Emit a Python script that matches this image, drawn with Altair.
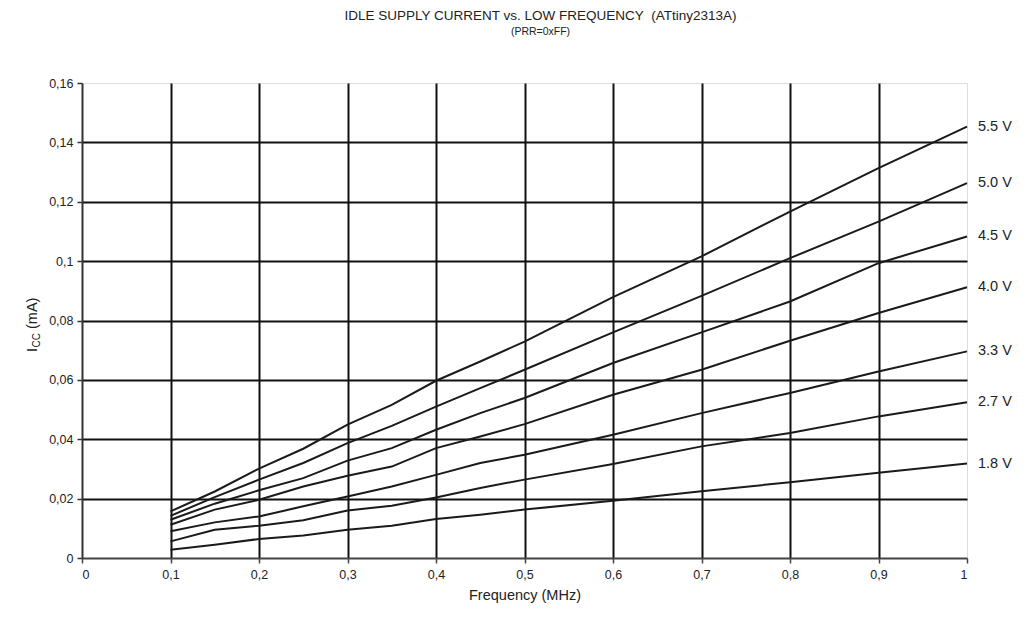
import altair as alt
import pandas as pd

freq = [0.1, 0.15, 0.2, 0.25, 0.3, 0.35, 0.4, 0.45, 0.5, 0.6, 0.7, 0.8, 0.9, 1.0]
v55 = [0.0157, 0.0224, 0.0301, 0.0368, 0.0449, 0.0516, 0.0597, 0.0662, 0.0729, 0.0879, 0.1016, 0.1167, 0.1313, 0.1453]
v50 = [0.0142, 0.0205, 0.0264, 0.0320, 0.0387, 0.0445, 0.0510, 0.0572, 0.0634, 0.0760, 0.0883, 0.1010, 0.1133, 0.1263]
v45 = [0.0129, 0.0183, 0.0228, 0.0269, 0.0328, 0.0370, 0.0432, 0.0488, 0.0539, 0.0657, 0.0760, 0.0864, 0.0993, 0.1083]
v40 = [0.0112, 0.0163, 0.0196, 0.0241, 0.0277, 0.0308, 0.0370, 0.0409, 0.0451, 0.0550, 0.0634, 0.0732, 0.0825, 0.0912]
v33 = [0.0090, 0.0120, 0.0140, 0.0174, 0.0207, 0.0241, 0.0280, 0.0320, 0.0348, 0.0415, 0.0488, 0.0556, 0.0628, 0.0696]
v27 = [0.0056, 0.0095, 0.0109, 0.0127, 0.0160, 0.0176, 0.0204, 0.0236, 0.0264, 0.0317, 0.0376, 0.0421, 0.0477, 0.0525]
v18 = [0.0028, 0.0045, 0.0064, 0.0076, 0.0095, 0.0109, 0.0131, 0.0146, 0.0163, 0.0193, 0.0225, 0.0255, 0.0287, 0.0318]

series = {"5.5 V": v55, "5.0 V": v50, "4.5 V": v45, "4.0 V": v40,
          "3.3 V": v33, "2.7 V": v27, "1.8 V": v18}

rows = []
for name, vals in series.items():
    for f, v in zip(freq, vals):
        rows.append({"f": f, "i": v, "s": name})
df = pd.DataFrame(rows)
ends = pd.DataFrame([{"f": freq[-1], "i": vals[-1], "s": name} for name, vals in series.items()])

FONT = "Liberation Sans"
W, H = 885, 475

xscale = alt.Scale(domain=[0, 1], nice=False)
yscale = alt.Scale(domain=[0, 0.16], nice=False)

grid_hide_x = {"condition": {"test": "datum.value <= 0 || datum.value >= 1", "value": 0}, "value": 1}
grid_hide_y = {"condition": {"test": "datum.value <= 0 || datum.value >= 0.159", "value": 0}, "value": 1}

xaxis = alt.Axis(values=[0, 0.1, 0.2, 0.3, 0.4, 0.5, 0.6, 0.7, 0.8, 0.9, 1.0], format=".1~f",
                 labelExpr="replace(datum.label, '.', ',')", title="Frequency (MHz)",
                 titleFontWeight="normal", titleFontSize=14.5, titlePadding=8, titleFont=FONT,
                 titleColor="#222",
                 labelFont=FONT, labelFontSize=12.5, labelPadding=5, labelColor="#222",
                 grid=True, gridColor="#111", gridWidth=2, gridOpacity=grid_hide_x,
                 domainColor="#444", domainWidth=2, tickColor="#444", tickSize=5, tickWidth=1.5)
yaxis = alt.Axis(values=[0, 0.02, 0.04, 0.06, 0.08, 0.1, 0.12, 0.14, 0.16], format=".2~f",
                 labelExpr="replace(datum.label, '.', ',')", title=None,
                 labelFont=FONT, labelFontSize=12.5, labelPadding=4, labelColor="#222",
                 grid=True, gridColor="#111", gridWidth=2, gridOpacity=grid_hide_y,
                 domainColor="#333", domainWidth=2, tickColor="#333", tickSize=5, tickWidth=1.5)

lines = alt.Chart(df).mark_line(color="#1a1a1a", strokeWidth=2).encode(
    x=alt.X("f:Q", scale=xscale, axis=xaxis),
    y=alt.Y("i:Q", scale=yscale, axis=yaxis),
    detail="s:N",
)

labels = alt.Chart(ends).mark_text(align="left", baseline="middle", dx=11, font=FONT,
                                   fontSize=14.5, color="#222").encode(
    x=alt.X("f:Q", scale=xscale), y=alt.Y("i:Q", scale=yscale), text="s:N")

yt1 = alt.Chart(pd.DataFrame([{"t": "I"}])).mark_text(angle=270, align="left", baseline="middle",
    font=FONT, fontSize=14.5, color="#222").encode(
    x=alt.value(-49), y=alt.value(269), text="t:N")
yt2 = alt.Chart(pd.DataFrame([{"t": "CC"}])).mark_text(angle=270, align="left", baseline="middle",
    font=FONT, fontSize=10, color="#222").encode(
    x=alt.value(-45), y=alt.value(264.5), text="t:N")
yt3 = alt.Chart(pd.DataFrame([{"t": "(mA)"}])).mark_text(angle=270, align="left", baseline="middle",
    font=FONT, fontSize=14.5, color="#222").encode(
    x=alt.value(-49), y=alt.value(246), text="t:N")

chart = alt.layer(lines, labels, yt1, yt2, yt3).properties(
    width=W, height=H,
    title=alt.TitleParams(text="IDLE SUPPLY CURRENT vs. LOW FREQUENCY\u00a0 (ATtiny2313A)",
                          subtitle="(PRR=0xFF)", font=FONT, fontSize=13.5, fontWeight="normal",
                          subtitleFont=FONT, subtitleFontSize=10.5, color="#222", subtitleColor="#222",
                          anchor="middle", dx=16, offset=40, subtitlePadding=4),
    autosize=alt.AutoSizeParams(type="none"),
    padding={"left": 74, "top": 75, "right": 53, "bottom": 63},
).configure_view(stroke="#999", strokeWidth=2).configure(background="white")

chart.save("out.html", embed_options={"renderer": "svg", "actions": False})
